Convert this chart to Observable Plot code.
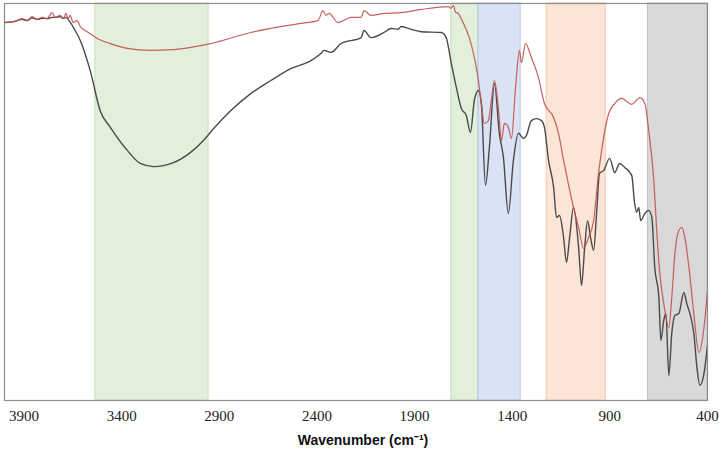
<!DOCTYPE html>
<html>
<head>
<meta charset="utf-8">
<script src="https://cdn.jsdelivr.net/npm/d3@7"></script>
<script src="https://cdn.jsdelivr.net/npm/@observablehq/plot@0.6"></script>
<style>
  html, body { margin: 0; padding: 0; background: #fff; }
  #chart svg { display: block; }
  #chart svg g[aria-label="x-axis tick label"],
  #chart svg g[aria-label="x-axis tick label"] text { font-family: "Liberation Serif", "Times New Roman", serif !important; }
</style>
</head>
<body>
<div id="chart"></div>
<script>
// Tick labels (wavenumber, cm-1)
const xTicks = [3900, 3400, 2900, 2400, 1900, 1400, 900, 400];
const xTitle = ["Wavenumber (cm⁻¹)"];

// Shaded bands: start/end wavenumbers, fill colours
const bandStart = [3535, 1712, 1573, 1224, 705];
const bandEnd   = [2955, 1573, 1357, 921, 400];
const bandFill  = ["#e2efda", "#e2efda", "#dae3f3", "#fbe5d6", "#d9d9d9"];
const bandEdge  = ["#c9e0bb", "#c9e0bb", "#b4c7e7", "#f6c9ab", "#bfbfbf"];

// Black spectrum (wavenumber, transmittance %)
const blackWn = [4000, 3946, 3910, 3884, 3859, 3833, 3807, 3782, 3756, 3741, 3715, 3700, 3684, 3674,
  3638, 3612, 3561, 3510, 3458, 3371, 3304, 3237, 3135, 3047, 2981, 2929, 2842, 2739, 2636, 2534,
  2431, 2380, 2364, 2328, 2277, 2174, 2159, 2123, 2056, 2020, 1984, 1969, 1917, 1866, 1763, 1738,
  1712, 1686, 1661, 1635, 1614, 1594, 1573, 1558, 1537, 1517, 1491, 1466, 1445, 1420, 1394, 1368,
  1342, 1327, 1302, 1276, 1250, 1235, 1214, 1188, 1173, 1158, 1137, 1122, 1106, 1086, 1060, 1045,
  1029, 1014, 999, 983, 968, 953, 932, 901, 875, 850, 824, 788, 773, 763, 752, 742, 721, 701, 685,
  670, 649, 639, 624, 613, 598, 583, 567, 547, 521, 506, 490, 470, 454, 439, 418, 400];
const blackT = [95.2, 95.5, 96.0, 95.7, 96.4, 96.0, 96.3, 96.2, 96.5, 96.5, 96.7, 96.2, 96.5, 96.0,
  93.2, 90.7, 83.1, 73.0, 68.8, 63.0, 59.7, 58.9, 59.9, 62.5, 65.5, 68.5, 73.0, 77.3, 80.6, 83.6,
  85.6, 87.4, 88.2, 87.7, 89.9, 91.4, 93.2, 91.4, 92.7, 93.7, 93.5, 94.2, 93.5, 92.9, 92.7, 91.4,
  84.9, 78.8, 73.6, 71.8, 67.5, 75.6, 78.1, 74.8, 54.2, 63.7, 79.8, 67.3, 61.2, 47.1, 60.5, 67.3,
  66.0, 66.8, 70.5, 71.0, 70.5, 68.8, 60.5, 53.7, 46.1, 46.6, 41.1, 34.8, 41.1, 48.6, 38.5, 29.0,
  38.5, 45.3, 41.1, 37.8, 47.1, 57.2, 57.9, 61.0, 57.4, 59.7, 58.7, 56.7, 49.6, 47.4, 48.6, 45.3,
  47.1, 47.9, 46.1, 33.5, 25.9, 15.1, 20.2, 21.9, 6.3, 16.9, 21.4, 21.9, 27.2, 24.4, 21.9, 16.9,
  8.3, 3.8, 6.8, 13.9];

// Red spectrum (wavenumber, transmittance %)
const redWn = [4000, 3946, 3910, 3884, 3859, 3833, 3807, 3782, 3756, 3741, 3715, 3700, 3684, 3674,
  3664, 3648, 3628, 3612, 3587, 3571, 3525, 3458, 3371, 3253, 3135, 2996, 2945, 2739, 2482, 2395,
  2369, 2354, 2338, 2292, 2225, 2174, 2159, 2123, 2056, 1969, 1866, 1727, 1715, 1701, 1690, 1676,
  1660, 1645, 1620, 1594, 1573, 1558, 1543, 1522, 1507, 1491, 1471, 1455, 1440, 1420, 1404, 1383,
  1363, 1353, 1332, 1302, 1266, 1235, 1188, 1163, 1137, 1111, 1086, 1060, 1035, 1009, 983, 958,
  932, 906, 875, 840, 788, 746, 721, 701, 675, 660, 644, 624, 598, 583, 567, 547, 531, 516, 495,
  470, 444, 418, 400];
const redT = [95.2, 95.5, 96.2, 95.7, 96.7, 96.0, 96.5, 96.2, 97.7, 96.5, 97.0, 96.2, 97.5, 96.0,
  97.0, 95.2, 95.7, 94.2, 93.2, 92.7, 91.2, 89.9, 88.7, 88.2, 88.4, 89.4, 89.9, 92.7, 95.0, 95.7,
  98.2, 97.0, 97.5, 95.2, 96.5, 96.5, 98.2, 97.0, 97.5, 97.7, 98.5, 99.2, 98.8, 99.5, 97.8, 97.5,
  96.0, 94.5, 91.4, 86.4, 80.6, 74.6, 69.8, 70.5, 75.6, 80.6, 73.8, 65.5, 69.8, 68.8, 66.0, 78.8,
  88.2, 85.1, 89.9, 86.4, 81.4, 74.8, 71.3, 67.3, 60.5, 54.2, 48.6, 43.6, 38.3, 41.1, 45.3, 57.2,
  66.2, 72.3, 74.8, 76.1, 74.6, 76.3, 74.8, 68.0, 55.4, 42.8, 32.0, 24.4, 18.4, 25.9, 37.0, 42.8,
  43.6, 41.1, 33.5, 21.9, 12.1, 18.4, 27.7];

const bands = bandStart.map((s, i) => ({x1: s, x2: bandEnd[i], fill: bandFill[i], edge: bandEdge[i]}));
const black = blackWn.map((w, i) => ({wn: w, t: blackT[i]}));
const red = redWn.map((w, i) => ({wn: w, t: redT[i]}));

const chart = Plot.plot({
  width: 719,
  height: 456,
  marginLeft: 4,
  marginRight: 12,
  marginTop: 3,
  marginBottom: 56,
  x: {domain: [4000, 400]},
  y: {domain: [0, 100], axis: null},
  marks: [
    Plot.rect(bands, {x1: "x1", x2: "x2", y1: 0, y2: 100, fill: d => d.fill, stroke: d => d.edge, strokeWidth: 1}),
    Plot.line(black, {x: "wn", y: "t", stroke: "#4a4a4a", strokeWidth: 1.4, curve: "monotone-x"}),
    Plot.line(red, {x: "wn", y: "t", stroke: "#c0504d", strokeWidth: 1.2, strokeOpacity: 0.9, curve: "monotone-x"}),
    Plot.frame({stroke: "#8c8c8c", strokeWidth: 1.2}),
    Plot.axisX({
      ticks: xTicks,
      tickSize: 0,
      tickPadding: 10,
      fontSize: 15,
      fontFamily: "Liberation Serif",
      tickFormat: d => String(d),
      label: null,
      color: "#222"
    }),
    Plot.text(xTitle, {
      frameAnchor: "bottom",
      dy: 44,
      dx: 7,
      text: d => d,
      fontSize: 14,
      fontWeight: "bold",
      fontFamily: "Liberation Sans",
      fill: "#111"
    })
  ]
});
document.getElementById("chart").append(chart);
</script>
</body>
</html>
